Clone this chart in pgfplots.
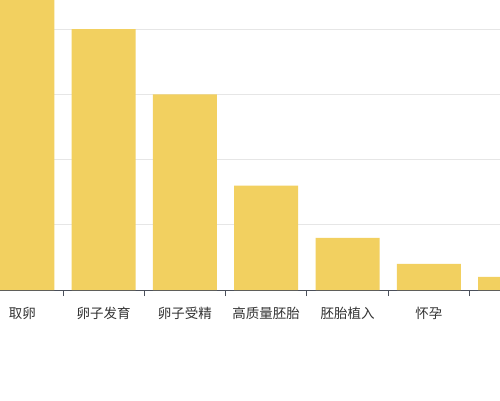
\documentclass[border=0pt]{standalone}
\usepackage{fontspec}
\setmainfont{Noto Sans CJK SC}
\usepackage{pgfplots}
\pgfplotsset{compat=1.18}

\definecolor{barfill}{HTML}{F2D060}
\definecolor{gridgray}{HTML}{E6E6E6}
\definecolor{axisdark}{HTML}{4A4F5A}
\definecolor{labelgray}{HTML}{333333}

\pgfplotstableread{
x  v
0  5.0
1  4.0
2  3.0
3  1.6
4  0.8
5  0.4
6  0.2
}\stages

\begin{document}
\begin{tikzpicture}[x=1pt,y=1pt]
\path[use as bounding box, clip] (0,0) rectangle (500,400);
\fill[white] (0,0) rectangle (500,400);
\begin{axis}[
    at={(22.3pt,110pt)},
    anchor=origin,
    x=81.3pt,
    y=65.25pt,
    xmin=-0.7, xmax=6.7,
    ymin=0, ymax=4.6,
    ybar,
    bar width=64pt,
    axis lines*=left,
    axis line style={axisdark, line width=0.8pt},
    y axis line style={draw=none},
    ytick={1,2,3,4},
    yticklabels={},
    ytick style={draw=none},
    ymajorgrids,
    grid style={gridgray, line width=0.8pt},
    xtick={0,...,6},
    xticklabels={取卵,卵子发育,卵子受精,高质量胚胎,胚胎植入,怀孕,},
    minor xtick={-0.5,0.5,1.5,2.5,3.5,4.5,5.5,6.5},
    major tick length=0pt,
    minor tick length=6pt,
    tick align=outside,
    x tick style={axisdark, line width=0.8pt},
    xticklabel style={font=\fontsize{13.5}{16}\selectfont, text=labelgray, yshift=-14pt},
]
\addplot[fill=barfill, draw=none, bar shift=0pt] table[x=x, y=v] {\stages};
\end{axis}
\end{tikzpicture}
\end{document}
